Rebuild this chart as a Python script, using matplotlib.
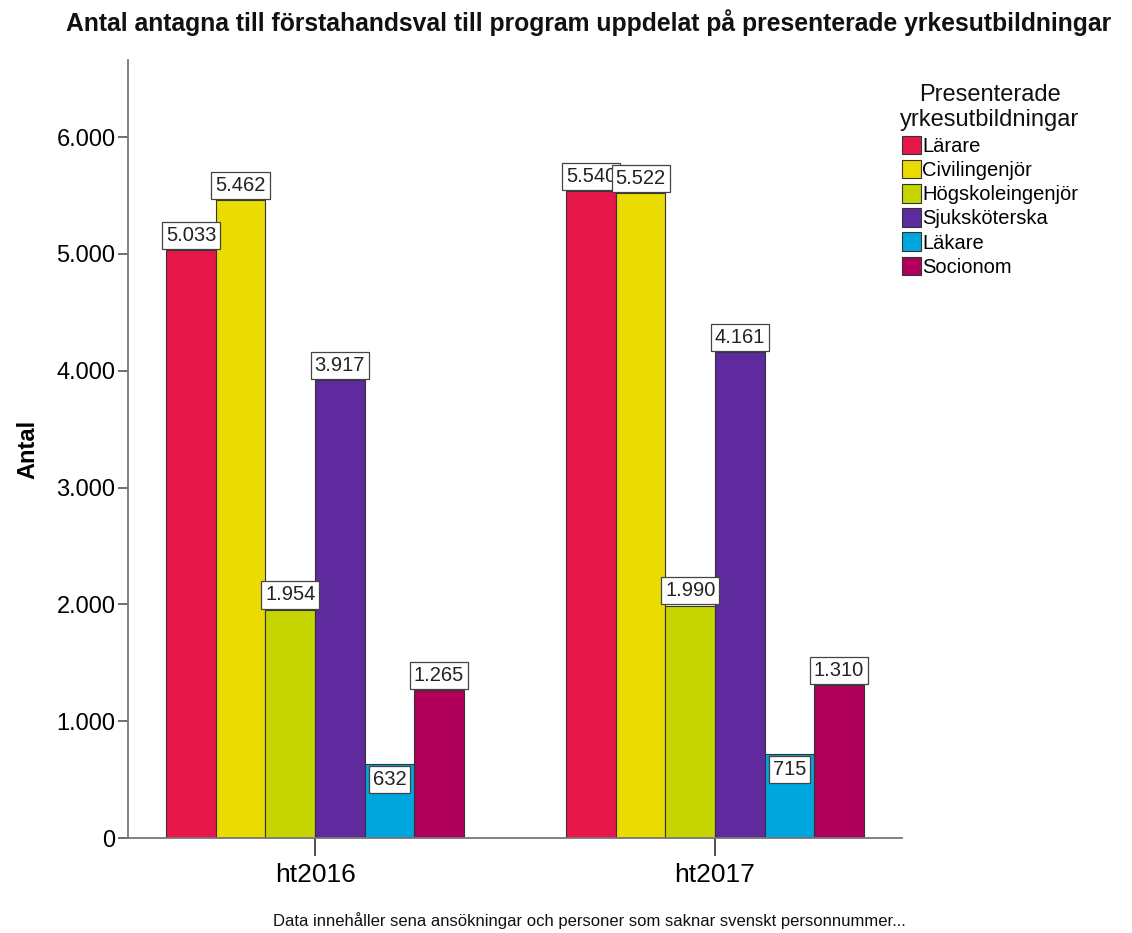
import matplotlib
matplotlib.use('Agg')
import matplotlib.pyplot as plt
import numpy as np

plt.rcParams['font.family'] = ['Liberation Sans', 'DejaVu Sans']

groups = ['ht2016', 'ht2017']
categories = ['Lärare', 'Civilingenjör', 'Högskoleingenjör', 'Sjuksköterska', 'Läkare', 'Socionom']
values = {
    'Lärare': [5033, 5540],
    'Civilingenjör': [5462, 5522],
    'Högskoleingenjör': [1954, 1990],
    'Sjuksköterska': [3917, 4161],
    'Läkare': [632, 715],
    'Socionom': [1265, 1310],
}
colors = ['#E8174B', '#EADB00', '#C5D500', '#5F2A9E', '#00A7DE', '#B1005B']
yticks = [0, 1000, 2000, 3000, 4000, 5000, 6000]
ytick_labels = ['0', '1.000', '2.000', '3.000', '4.000', '5.000', '6.000']

fig = plt.figure(figsize=(11.32, 9.33), dpi=100)
ax = fig.add_axes([0.1131, 0.1018, 0.6837, 0.8339])

x = np.arange(len(groups))
w = 0.124
for i, cat in enumerate(categories):
    pos = x + (i - 2.5) * w
    ax.bar(pos, values[cat], w, color=colors[i], edgecolor='#333333',
           linewidth=0.8, label=cat)
    for xp, v in zip(pos, values[cat]):
        txt = format(v, ',').replace(',', '.')
        # Läkare bars are short, label sits inside below the top
        va = 'top' if cat == 'Läkare' else 'bottom'
        off = -50 if va == 'top' else 45
        ax.text(xp, v + off, txt, ha='center', va=va, fontsize=14.5, color='#222222',
                bbox=dict(boxstyle='square,pad=0.2', facecolor='white',
                          edgecolor='#444444', linewidth=0.9), zorder=5)

ax.set_xlim(-0.4675, 1.4675)
ax.set_ylim(0, 6660)
ax.set_yticks(yticks)
ax.set_yticklabels(ytick_labels, fontsize=17)
ax.set_xticks(x)
ax.set_xticklabels(groups, fontsize=19)
ax.tick_params(axis='y', length=7, width=1.2, color='#555555', pad=2)
ax.tick_params(axis='x', length=13, width=1.2, color='#333333', pad=5)
ax.spines['top'].set_visible(False)
ax.spines['right'].set_visible(False)
for s in ['left', 'bottom']:
    ax.spines[s].set_color('#777777')
    ax.spines[s].set_linewidth(1.3)
ax.set_ylabel('Antal', fontsize=17, fontweight='bold', labelpad=12)

fig.text(0.5195, 0.976,
         'Antal antagna till förstahandsval till program uppdelat på presenterade yrkesutbildningar',
         ha='center', va='center', fontsize=17.8, fontweight='bold', color='#111111')

leg = fig.legend(loc='upper left', bbox_to_anchor=(0.783, 0.925), frameon=False,
                 fontsize=14.5, title='Presenterade\nyrkesutbildningar', title_fontsize=17,
                 handlelength=0.95, handleheight=1.05, handletextpad=0.08,
                 labelspacing=0.2, borderpad=0.2)
for h in leg.legend_handles:
    h.set_edgecolor('#333333')
leg.get_title().set_color('#111111')
leg.get_title().set_multialignment('center')

fig.text(0.521, 0.013, 'Data innehåller sena ansökningar och personer som saknar svenskt personnummer...',
         ha='center', va='center', fontsize=12, color='#111111')

fig.savefig('out.png', dpi=100)
